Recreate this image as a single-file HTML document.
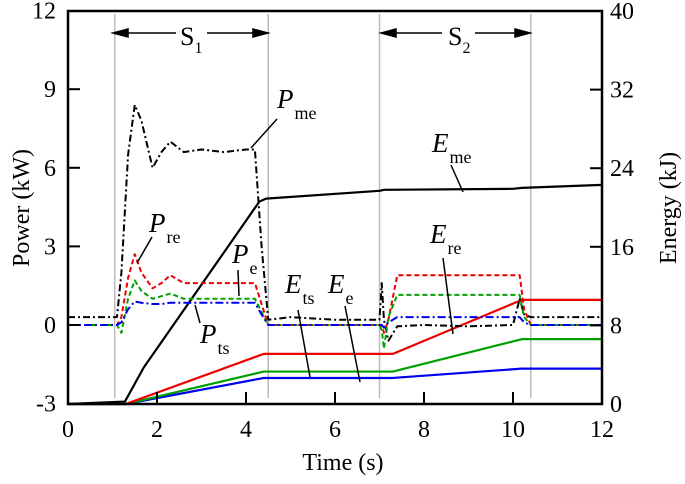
<!DOCTYPE html>
<html><head><meta charset="utf-8"><style>
body{margin:0;background:#fff}
svg text{font-family:"Liberation Serif",serif;fill:#000}
</style></head><body>
<svg id="c" width="685" height="479" viewBox="0 0 685 479"></svg>
<script>
const times=[0,1.1,1.2,1.35,1.5,1.65,1.9,2.1,2.3,2.6,3,3.5,4,4.2,4.35,4.5,5,6,7,7.05,7.1,7.2,7.4,8,9,10,10.15,10.25,10.4,11,12];
const pme=[0.3,0.3,2.0,6.5,8.4,7.8,6.0,6.6,7.0,6.6,6.7,6.6,6.7,6.7,3.0,0.2,0.3,0.2,0.2,1.6,0.2,-0.6,-0.05,0,-0.05,0,1.0,0.4,0.3,0.3,0.3];
const pre=[0,0,0.3,1.8,2.7,2.0,1.4,1.6,1.9,1.6,1.6,1.6,1.6,1.6,0.8,0,0,0,0,0,-0.3,0.2,1.9,1.9,1.9,1.9,1.9,0.6,0,0,0];
const pe=[0,0,-0.3,1.0,1.7,1.3,1.0,1.1,1.2,1.0,1.0,1.0,1.0,1.0,0.5,0,0,0,0,-0.2,-0.9,0.3,1.15,1.15,1.15,1.15,1.15,0.3,0,0,0];
const pts=[0,0,0.1,0.6,0.9,0.85,0.8,0.8,0.85,0.85,0.85,0.85,0.85,0.85,0.4,0,0,0,0,0,-0.1,0.1,0.3,0.3,0.3,0.3,0.3,0.1,0,0,0];
const eTimes=[0,1.28,1.7,4.3,4.45,7,7.1,10,10.2,12];
const eme=[0,0.25,3.7,20.6,20.9,21.7,21.8,21.9,22.0,22.3];
const eTimes2=[0,1.3,4.4,7.3,10.2,12];
const ere=[0,0,5.1,5.1,10.6,10.6];
const ee=[0,0,3.3,3.3,6.6,6.6];
const ets=[0,0,2.65,2.65,3.6,3.6];
const xTicks=[0,2,4,6,8,10,12];
const yTicks=[-3,0,3,6,9,12];
const y2Ticks=[0,8,16,24,32,40];
const NS="http://www.w3.org/2000/svg";
const svg=document.getElementById('c');
const X=t=>68+t*44.5, Y=p=>325-p*26.2, Y2=e=>404-e*9.825;
function el(tag,attrs,parent){const e=document.createElementNS(NS,tag);for(const k in attrs)e.setAttribute(k,attrs[k]);(parent||svg).appendChild(e);return e;}
[1.05,4.5,7.0,10.4].forEach(t=>{const l=el('line',{x1:X(t),x2:X(t),y1:14,y2:398,stroke:'#bbb','stroke-width':1.5});

});
function poly(xs,ys,fx,fy,color,dash,w,name){const p=el('polyline',{points:xs.map((t,i)=>X(t)+','+fy(ys[i])).join(' '),fill:'none',stroke:color,'stroke-width':w||2,'stroke-dasharray':dash||'none','stroke-linejoin':'round'});

}
poly(eTimes2,ets,X,Y2,'#0000ee','',2.2,'line-e-ts');
poly(eTimes2,ee,X,Y2,'#00a000','',2.2,'line-e-e');
poly(eTimes2,ere,X,Y2,'#ee0000','',2.2,'line-e-re');
poly(eTimes,eme,X,Y2,'#000','',2.2,'line-e-me');
poly(times,pme,X,Y,'#000','7,3,2,3',2,'line-p-me');
poly(times,pre,X,Y,'#ee0000','5,3',2,'line-p-re');
poly(times,pe,X,Y,'#00a000','5,3',2,'line-p-e');
poly(times,pts,X,Y,'#0000ee','8,3,2,3',2,'line-p-ts');
const f=el('rect',{x:68,y:11,width:534,height:393,fill:'none',stroke:'#000','stroke-width':2.5});


xTicks.forEach(t=>{ if(t>0&&t<12) el('line',{x1:X(t),x2:X(t),y1:404,y2:392,stroke:'#000','stroke-width':2});
const tx=el('text',{x:X(t),y:437,'font-size':24,'text-anchor':'middle'});tx.textContent=t;

});
yTicks.forEach(v=>{ if(v>-3&&v<12) el('line',{x1:68,x2:80,y1:Y(v),y2:Y(v),stroke:'#000','stroke-width':2});
const tx=el('text',{x:56,y:Y(v)+8,'font-size':24,'text-anchor':'end'});tx.textContent=v;

});
y2Ticks.forEach(v=>{ if(v>0&&v<40) el('line',{x1:602,x2:590,y1:Y2(v),y2:Y2(v),stroke:'#000','stroke-width':2});
const tx=el('text',{x:610,y:Y2(v)+8,'font-size':24});tx.textContent=v;

});
</script>
<svg width="685" height="479" style="position:absolute;left:0;top:0">
<g font-family="Liberation Serif,serif">
<text x="343" y="470" font-size="24" text-anchor="middle">Time (s)</text>
<text transform="translate(29,208) rotate(-90)" font-size="24" text-anchor="middle">Power (kW)</text>
<text transform="translate(676,208) rotate(-90)" font-size="24" text-anchor="middle">Energy (kJ)</text>
<g stroke="#000" stroke-width="1.5" fill="#000">
<line x1="118" y1="33" x2="176" y2="33"/><line x1="207" y1="33" x2="262" y2="33"/>
<polygon points="113,33 128,29 128,37"/><polygon points="268,33 253,29 253,37"/>
<line x1="386" y1="33" x2="442" y2="33"/><line x1="475" y1="33" x2="525" y2="33"/>
<polygon points="381,33 396,29 396,37"/><polygon points="530,33 515,29 515,37"/>
<line x1="277" y1="119" x2="251" y2="148"/>
<line x1="451" y1="165" x2="463" y2="192"/>
<line x1="152" y1="237" x2="137" y2="263"/>
<line x1="238" y1="270" x2="239" y2="296"/>
<line x1="195" y1="305" x2="200" y2="323"/>
<line x1="298" y1="310" x2="310" y2="377"/>
<line x1="345" y1="306" x2="360" y2="382"/>
<line x1="443" y1="258" x2="453" y2="334"/>
</g>
<text x="180" y="45" font-size="26">S<tspan font-size="16" dy="8">1</tspan></text>
<text x="448" y="45" font-size="26">S<tspan font-size="16" dy="8">2</tspan></text>
<g font-size="27">
<text x="277" y="108"><tspan font-style="italic">P</tspan><tspan font-size="18" dx="1" dy="11">me</tspan></text>
<text x="432" y="152"><tspan font-style="italic">E</tspan><tspan font-size="18" dx="1" dy="11">me</tspan></text>
<text x="149" y="232"><tspan font-style="italic">P</tspan><tspan font-size="18" dx="1" dy="11">re</tspan></text>
<text x="232" y="263"><tspan font-style="italic">P</tspan><tspan font-size="18" dx="1" dy="11">e</tspan></text>
<text x="200" y="343"><tspan font-style="italic">P</tspan><tspan font-size="18" dx="1" dy="11">ts</tspan></text>
<text x="285" y="293"><tspan font-style="italic">E</tspan><tspan font-size="18" dx="1" dy="11">ts</tspan></text>
<text x="328" y="293"><tspan font-style="italic">E</tspan><tspan font-size="18" dx="1" dy="11">e</tspan></text>
<text x="430" y="243"><tspan font-style="italic">E</tspan><tspan font-size="18" dx="1" dy="11">re</tspan></text>
</g>
</g>
</svg>
</body></html>
